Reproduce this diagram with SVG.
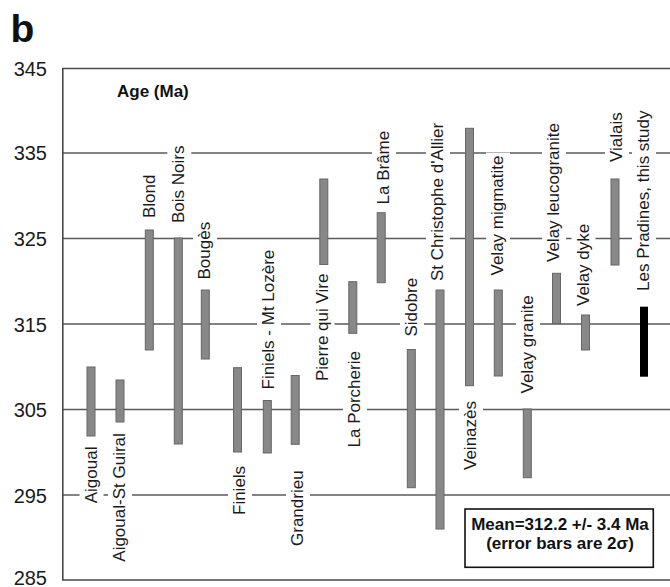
<svg xmlns="http://www.w3.org/2000/svg" width="670" height="587" viewBox="0 0 670 587">
<style>
.frame{stroke:#4a4a4a;stroke-width:1.6;fill:none}
.grid{stroke:#5a5a5a;stroke-width:1.3;fill:none}
.tick{font-family:"Liberation Sans",Arial,sans-serif;font-size:20px;fill:#1a1a1a;text-anchor:end}
.lbl{font-family:"Liberation Sans",Arial,sans-serif;font-size:17px;fill:#1a1a1a}
.bg{fill:#ffffff}
.bar{fill:#888888;stroke:#666666;stroke-width:1}
.own{fill:#000000}
.bold{font-family:"Liberation Sans",Arial,sans-serif;font-weight:bold;fill:#111}
</style>
<rect x="0" y="0" width="670" height="587" fill="#ffffff"/>
<text class="bold" x="10.5" y="41.5" font-size="39">b</text>
<g id="axis">
<g class="tick">
<text x="47" y="76">345</text>
<text x="47" y="160">335</text>
<text x="47" y="246">325</text>
<text x="47" y="331.5">315</text>
<text x="47" y="417">305</text>
<text x="47" y="502.5">295</text>
<text x="47" y="584.5">285</text>
</g>
<line class="grid" x1="63" y1="153" x2="670" y2="153"/>
<line class="grid" x1="63" y1="238.5" x2="670" y2="238.5"/>
<line class="grid" x1="63" y1="324" x2="670" y2="324"/>
<line class="grid" x1="63" y1="409.5" x2="670" y2="409.5"/>
<line class="grid" x1="63" y1="495" x2="670" y2="495"/>
<path class="frame" d="M670,68.5 H62.8 V580 H670"/>
<text class="bold" x="117" y="97" font-size="17">Age (Ma)</text>
</g>
<g id="labels-bg">
<rect class="bg" transform="translate(96.5,503.3) rotate(-90)" x="-2" y="-17" width="60.7" height="24"/>
<rect class="bg" transform="translate(125,561.7) rotate(-90)" x="-2" y="-17" width="132.5" height="24"/>
<rect class="bg" transform="translate(155,218) rotate(-90)" x="-2" y="-17" width="47.5" height="24"/>
<rect class="bg" transform="translate(184.3,223) rotate(-90)" x="-2" y="-17" width="81.5" height="24"/>
<rect class="bg" transform="translate(210,279.5) rotate(-90)" x="-2" y="-17" width="61.6" height="24"/>
<rect class="bg" transform="translate(245,515) rotate(-90)" x="-2" y="-17" width="53.1" height="24"/>
<rect class="bg" transform="translate(274,389.5) rotate(-90)" x="-2" y="-17" width="143.8" height="24"/>
<rect class="bg" transform="translate(303,546) rotate(-90)" x="-2" y="-17" width="79.6" height="24"/>
<rect class="bg" transform="translate(327.5,381) rotate(-90)" x="-2" y="-17" width="111.7" height="24"/>
<rect class="bg" transform="translate(360,447.5) rotate(-90)" x="-2" y="-17" width="100.4" height="24"/>
<rect class="bg" transform="translate(389,204.5) rotate(-90)" x="-2" y="-17" width="77.7" height="24"/>
<rect class="bg" transform="translate(417,336.5) rotate(-90)" x="-2" y="-17" width="62.6" height="24"/>
<rect class="bg" transform="translate(443,281) rotate(-90)" x="-2" y="-17" width="162.2" height="24"/>
<rect class="bg" transform="translate(476,470) rotate(-90)" x="-2" y="-17" width="73.9" height="24"/>
<rect class="bg" transform="translate(503,275.5) rotate(-90)" x="-2" y="-17" width="124.9" height="24"/>
<rect class="bg" transform="translate(533,393.5) rotate(-90)" x="-2" y="-17" width="103.2" height="24"/>
<rect class="bg" transform="translate(559,262) rotate(-90)" x="-2" y="-17" width="143.8" height="24"/>
<rect class="bg" transform="translate(588.5,306) rotate(-90)" x="-2" y="-17" width="87.1" height="24"/>
<rect class="bg" transform="translate(622,162) rotate(-90)" x="-2" y="-17" width="54.1" height="24"/>
<rect class="bg" transform="translate(649,291) rotate(-90)" x="-2" y="-17" width="184.5" height="24"/>
</g>
<g id="aigoual"><rect class="bar" x="87" y="367" width="8" height="69"/><text class="lbl" transform="translate(96.5,503.3) rotate(-90)">Aigoual</text></g>
<g id="aigoual-st-guiral"><rect class="bar" x="116" y="380" width="8" height="42"/><text class="lbl" transform="translate(125,561.7) rotate(-90)">Aigoual-St Guiral</text></g>
<g id="blond"><rect class="bar" x="145.3" y="230" width="8" height="120"/><text class="lbl" transform="translate(155,218) rotate(-90)">Blond</text></g>
<g id="bois-noirs"><rect class="bar" x="174.3" y="238" width="8" height="206"/><text class="lbl" transform="translate(184.3,223) rotate(-90)">Bois Noirs</text></g>
<g id="bouges"><rect class="bar" x="201.3" y="290" width="8" height="69"/><text class="lbl" transform="translate(210,279.5) rotate(-90)">Bougès</text></g>
<g id="finiels"><rect class="bar" x="233.5" y="367.7" width="8" height="84.3"/><text class="lbl" transform="translate(245,515) rotate(-90)">Finiels</text></g>
<g id="finiels-mt-lozere"><rect class="bar" x="263.3" y="400.5" width="8" height="52.5"/><text class="lbl" transform="translate(274,389.5) rotate(-90)">Finiels - Mt Lozère</text></g>
<g id="grandrieu"><rect class="bar" x="291.2" y="375.5" width="8" height="68.8"/><text class="lbl" transform="translate(303,546) rotate(-90)">Grandrieu</text></g>
<g id="pierre-qui-vire"><rect class="bar" x="319.8" y="179" width="8" height="85.5"/><text class="lbl" transform="translate(327.5,381) rotate(-90)">Pierre qui Vire</text></g>
<g id="la-porcherie"><rect class="bar" x="348.8" y="281.7" width="8" height="51.6"/><text class="lbl" transform="translate(360,447.5) rotate(-90)">La Porcherie</text></g>
<g id="la-brame"><rect class="bar" x="377.2" y="212.7" width="8" height="70"/><text class="lbl" transform="translate(389,204.5) rotate(-90)">La Brâme</text></g>
<g id="sidobre"><rect class="bar" x="407.3" y="349.5" width="8" height="138.2"/><text class="lbl" transform="translate(417,336.5) rotate(-90)">Sidobre</text></g>
<g id="st-christophe"><rect class="bar" x="436" y="290" width="8" height="239"/><text class="lbl" transform="translate(443,281) rotate(-90)">St Christophe d'Allier</text></g>
<g id="veinazes"><rect class="bar" x="465.5" y="128.3" width="8" height="257.4"/><text class="lbl" transform="translate(476,470) rotate(-90)">Veinazès</text></g>
<g id="velay-migmatite"><rect class="bar" x="494.3" y="290" width="8" height="86"/><text class="lbl" transform="translate(503,275.5) rotate(-90)">Velay migmatite</text></g>
<g id="velay-granite"><rect class="bar" x="523.3" y="409" width="8" height="68.7"/><text class="lbl" transform="translate(533,393.5) rotate(-90)">Velay granite</text></g>
<g id="velay-leucogranite"><rect class="bar" x="552.5" y="273.3" width="8" height="50.2"/><text class="lbl" transform="translate(559,262) rotate(-90)">Velay leucogranite</text></g>
<g id="velay-dyke"><rect class="bar" x="581.5" y="315" width="8" height="35"/><text class="lbl" transform="translate(588.5,306) rotate(-90)">Velay dyke</text></g>
<g id="vialais"><rect class="bar" x="611" y="179" width="8" height="86"/><text class="lbl" transform="translate(622,162) rotate(-90)">Vialais</text></g>
<g id="les-pradines"><rect class="own" x="640" y="306.7" width="8" height="70"/><text class="lbl" transform="translate(649,291) rotate(-90)">Les Pradines, this study</text></g>
<g id="legend">
<rect x="465" y="509" width="188.3" height="58.3" fill="#ffffff" stroke="#111" stroke-width="1.6"/>
<text class="bold" x="560" y="530" font-size="17" text-anchor="middle">Mean=312.2 +/- 3.4 Ma</text>
<text class="bold" x="560" y="548.5" font-size="17" text-anchor="middle">(error bars are 2σ)</text>
</g>
<g id="connectors"/>
</svg>
